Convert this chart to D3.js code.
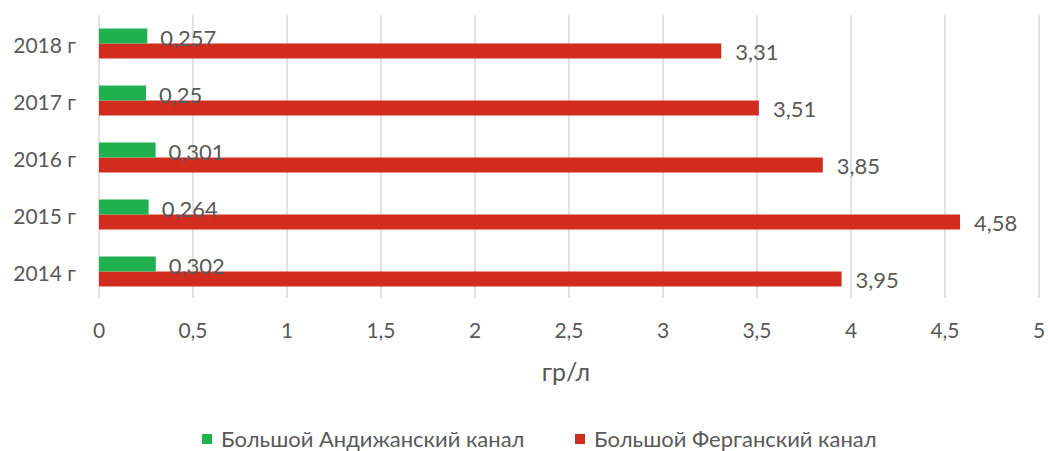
<!DOCTYPE html>
<html><head><meta charset="utf-8">
<script src="https://cdn.jsdelivr.net/npm/d3@7"></script>
<style>body{margin:0;background:#fff}svg{display:block}text{font-family:Lato,"Noto Sans",sans-serif;fill:#595959}</style>
</head><body><svg id="c" width="1048" height="451"></svg>
<script>
const categories = ["2014 г","2015 г","2016 г","2017 г","2018 г"];
const andijan = [0.302,0.264,0.301,0.25,0.257];
const fergana = [3.95,4.58,3.85,3.51,3.31];
const andijanLabels = ["0,302","0,264","0,301","0,25","0,257"];
const ferganaLabels = ["3,95","4,58","3,85","3,51","3,31"];
const xTicks = [0,0.5,1,1.5,2,2.5,3,3.5,4,4.5,5];
const xTickLabels = ["0","0,5","1","1,5","2","2,5","3","3,5","4","4,5","5"];
const seriesNames = ["Большой Андижанский канал","Большой Ферганский канал"];
const colors = ["#21b04f","#d22c1f"];

const svg = d3.select("#c");
const x = d3.scaleLinear().domain([0,5]).range([99,1039]);
const y = d3.scaleBand().domain(categories.slice().reverse()).range([15,300]).paddingInner(0.474).paddingOuter(0.237);
const bh = y.bandwidth()/2;

svg.append("g").selectAll("line").data(xTicks).join("line")
  .attr("x1",d=>x(d)).attr("x2",d=>x(d)).attr("y1",15).attr("y2",298)
  .attr("stroke","#d9d9d9").attr("stroke-width",1.5);

svg.append("g").selectAll("text").data(xTicks).join("text")
  .attr("x",d=>x(d)).attr("y",331).attr("dy","0.35em").attr("text-anchor","middle")
  .attr("font-size",21).text((d,i)=>xTickLabels[i]);

svg.append("g").selectAll("text").data(categories).join("text")
  .attr("x",76).attr("y",d=>y(d)+y.bandwidth()/2+2).attr("dy","0.35em").attr("text-anchor","end")
  .attr("font-size",21).text(d=>d);

const g = svg.append("g");
g.selectAll("rect.r").data(categories).join("rect").attr("class","r")
  .attr("x",x(0)).attr("y",d=>y(d)+bh).attr("width",(d,i)=>x(fergana[i])-x(0)).attr("height",bh)
  .attr("fill",colors[1]);
g.selectAll("rect.g").data(categories).join("rect").attr("class","g")
  .attr("x",x(0)).attr("y",d=>y(d)).attr("width",(d,i)=>x(andijan[i])-x(0)).attr("height",bh)
  .attr("fill",colors[0]);
g.selectAll("text.r").data(categories).join("text").attr("class","r")
  .attr("x",(d,i)=>x(fergana[i])+14).attr("y",d=>y(d)+bh*1.5+1).attr("dy","0.35em")
  .attr("font-size",22).text((d,i)=>ferganaLabels[i]);
g.selectAll("text.g").data(categories).join("text").attr("class","g")
  .attr("x",(d,i)=>x(andijan[i])+13).attr("y",d=>y(d)+bh*0.5+2).attr("dy","0.35em")
  .attr("font-size",22).text((d,i)=>andijanLabels[i]);

svg.append("text").attr("x",566).attr("y",372).attr("dy","0.35em").attr("text-anchor","middle")
  .attr("font-size",25).text("гр/л");

const legX = [202,575];
const lg = svg.append("g").selectAll("g").data(seriesNames).join("g")
  .attr("transform",(d,i)=>`translate(${legX[i]},439)`);
lg.append("rect").attr("x",0).attr("y",-5).attr("width",10).attr("height",10).attr("fill",(d,i)=>colors[i]);
lg.append("text").attr("x",19).attr("y",0).attr("dy","0.35em").attr("font-size",22).text(d=>d);
</script></body></html>
